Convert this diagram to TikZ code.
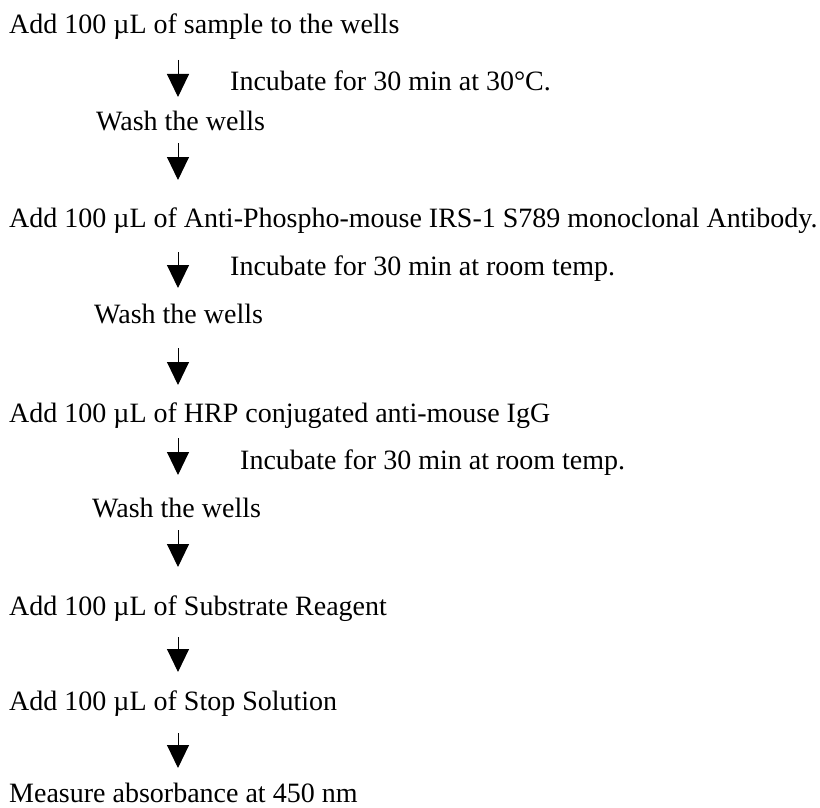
\documentclass[tikz,border=0pt]{standalone}
\usepackage{fontspec}
\setmainfont{Liberation Serif}
\usepackage{tikz}
\usetikzlibrary{arrows.meta, positioning}

\begin{document}
\begin{tikzpicture}[
  x=1pt, y=-1pt,
  txt/.style={anchor=base west, inner sep=0pt, font=\fontsize{28}{34}\selectfont},
  arr/.style={-{Triangle[width=22pt, length=23pt]}, line width=1pt}
]
  \useasboundingbox (0,0) rectangle (820,808);

  % steps
  \node[txt] (sample) at (9,34)   {Add 100 µL of sample to the wells};
  \node[txt] (inc1)   at (230,91) {Incubate for 30 min at 30°C.};
  \node[txt] (wash1)  at (96,131) {Wash the wells};
  \node[txt] (ab)     at (9,227)  {Add 100 µL of Anti-Phospho-mouse IRS-1 S789 monoclonal Antibody.};
  \node[txt] (inc2)   at (230,275) {Incubate for 30 min at room temp.};
  \node[txt] (wash2)  at (94,323) {Wash the wells};
  \node[txt] (hrp)    at (9,422)  {Add 100 µL of HRP conjugated anti-mouse IgG};
  \node[txt] (inc3)   at (240,469) {Incubate for 30 min at room temp.};
  \node[txt] (wash3)  at (92,517) {Wash the wells};
  \node[txt] (sub)    at (9,615)  {Add 100 µL of Substrate Reagent};
  \node[txt] (stop)   at (9,710)  {Add 100 µL of Stop Solution};
  \node[txt] (meas)   at (9,802)  {Measure absorbance at 450 nm};

  % arrow ends
  \coordinate (a1t) at (178,60);  \coordinate (a1b) at (178,97);
  \coordinate (a2t) at (178,143); \coordinate (a2b) at (178,180);
  \coordinate (a3t) at (178,252); \coordinate (a3b) at (178,288);
  \coordinate (a4t) at (178,348); \coordinate (a4b) at (178,385);
  \coordinate (a5t) at (178,438); \coordinate (a5b) at (178,475);
  \coordinate (a6t) at (178,530); \coordinate (a6b) at (178,567);
  \coordinate (a7t) at (178,637); \coordinate (a7b) at (178,672);
  \coordinate (a8t) at (178,733); \coordinate (a8b) at (178,768);

  \draw[arr] (a1t) -- (a1b);
  \draw[arr] (a2t) -- (a2b);
  \draw[arr] (a3t) -- (a3b);
  \draw[arr] (a4t) -- (a4b);
  \draw[arr] (a5t) -- (a5b);
  \draw[arr] (a6t) -- (a6b);
  \draw[arr] (a7t) -- (a7b);
  \draw[arr] (a8t) -- (a8b);
\end{tikzpicture}
\end{document}
